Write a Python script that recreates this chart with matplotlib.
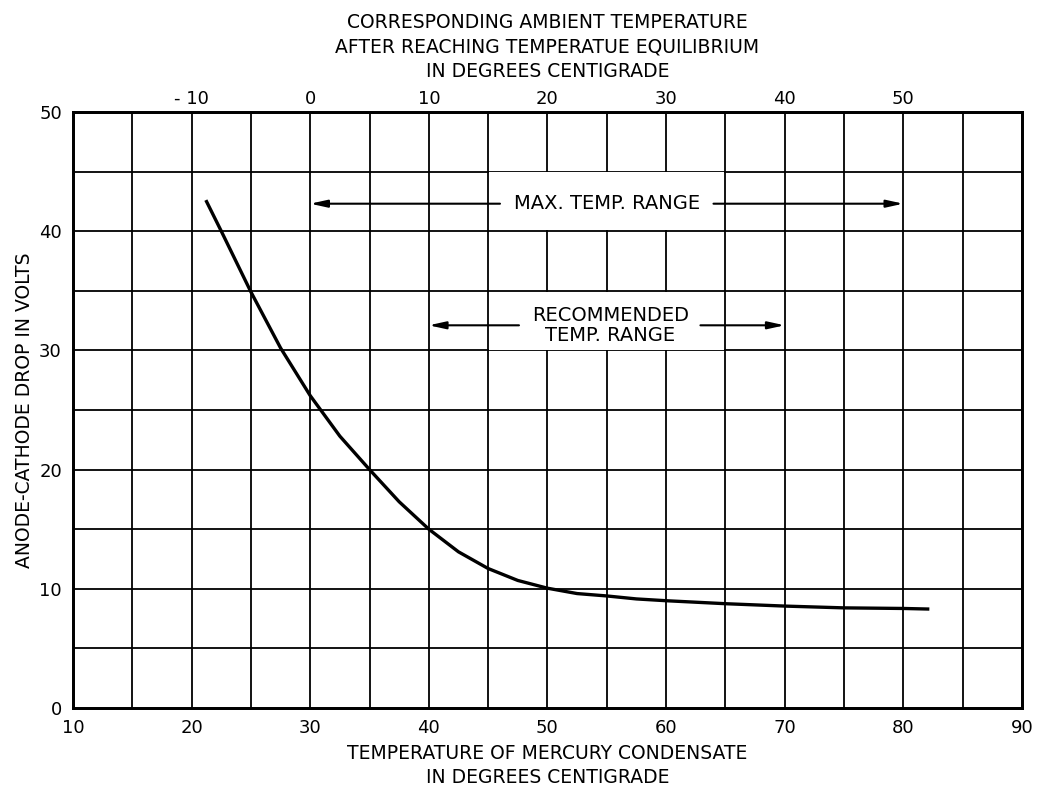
import matplotlib
matplotlib.use("Agg")
import matplotlib.pyplot as plt
from matplotlib.patches import Rectangle

# curve: mercury condensate temperature vs anode-cathode drop
temp_mercurio = [21.2, 22.5, 25, 27.5, 30, 32.5, 35, 37.5, 40, 42.5, 45, 47.5,
                 50, 52.5, 55, 57.5, 60, 65, 70, 75, 80, 82.2]
queda_volts = [42.6, 40.0, 34.9, 30.2, 26.2, 22.8, 20.0, 17.3, 15.0, 13.1, 11.7, 10.7,
               10.05, 9.6, 9.4, 9.15, 9.0, 8.75, 8.55, 8.4, 8.35, 8.3]

# ticks
x_ticks = [10, 20, 30, 40, 50, 60, 70, 80, 90]
y_ticks = [0, 10, 20, 30, 40, 50]
ambiente_labels = [-10, 0, 10, 20, 30, 40, 50]
ambiente_pos = [20, 30, 40, 50, 60, 70, 80]   # ambient = mercury - 30

# ranges (mercury scale)
faixa_max = (30, 80)
faixa_recomendada = (40, 70)

plt.rcParams['font.family'] = ['DejaVu Sans']
fig = plt.figure(figsize=(10.37, 7.88), dpi=100)
ax = fig.add_axes([0.0704, 0.1015, 0.915, 0.7565])

ax.set_xlim(10, 90)
ax.set_ylim(0, 50)

# grid every 5 units
for gx in range(15, 90, 5):
    ax.axvline(gx, color='black', lw=1.3, zorder=1)
for gy in range(5, 50, 5):
    ax.axhline(gy, color='black', lw=1.3, zorder=1)

# white cells behind the range labels (the grid is broken there)
ax.add_patch(Rectangle((45.08, 40.07), 19.84, 4.86, facecolor='white', edgecolor='none', zorder=2))
ax.add_patch(Rectangle((45.08, 30.07), 19.84, 4.86, facecolor='white', edgecolor='none', zorder=2))

ax.plot(temp_mercurio, queda_volts, color='black', lw=2.4, zorder=4,
        solid_capstyle='butt')

seta = dict(arrowstyle='-|>,head_length=1.0,head_width=0.22', color='black', lw=1.5,
            shrinkA=0, shrinkB=0)

# MAX. TEMP. RANGE
y_max = 42.3
ax.annotate('', xy=(faixa_max[0], y_max), xytext=(46.0, y_max), arrowprops=seta, zorder=5)
ax.annotate('', xy=(faixa_max[1], y_max), xytext=(64.0, y_max), arrowprops=seta, zorder=5)
ax.text(55.0, y_max, 'MAX. TEMP. RANGE', ha='center', va='center', fontsize=14, zorder=5)

# RECOMMENDED TEMP. RANGE
y_rec = 32.1
ax.annotate('', xy=(faixa_recomendada[0], y_rec), xytext=(47.6, y_rec), arrowprops=seta, zorder=5)
ax.annotate('', xy=(faixa_recomendada[1], y_rec), xytext=(62.9, y_rec), arrowprops=seta, zorder=5)
ax.text(55.3, y_rec, 'RECOMMENDED\nTEMP. RANGE', ha='center', va='center', fontsize=14,
        linespacing=1.05, zorder=5)

ax.set_xticks(x_ticks)
ax.set_yticks(y_ticks)
ax.tick_params(length=0, labelsize=13, pad=8)
for s in ax.spines.values():
    s.set_linewidth(2)

ax.set_xlabel('TEMPERATURE OF MERCURY CONDENSATE\nIN DEGREES CENTIGRADE', fontsize=13.5,
              labelpad=5, linespacing=1.3)
ax.set_ylabel('ANODE-CATHODE DROP IN VOLTS', fontsize=13.5, labelpad=4)

# top axis: ambient temperature
top = ax.twiny()
top.set_xlim(ax.get_xlim())
top.set_xticks(ambiente_pos)
top.set_xticklabels([('- 10' if v == -10 else str(v)) for v in ambiente_labels])
top.tick_params(length=0, labelsize=13, pad=3)
top.set_xlabel('CORRESPONDING AMBIENT TEMPERATURE\nAFTER REACHING TEMPERATUE EQUILIBRIUM\nIN DEGREES CENTIGRADE',
               fontsize=13.5, labelpad=9, linespacing=1.38)
for s in top.spines.values():
    s.set_linewidth(2)

fig.savefig('out.png', dpi=100)
